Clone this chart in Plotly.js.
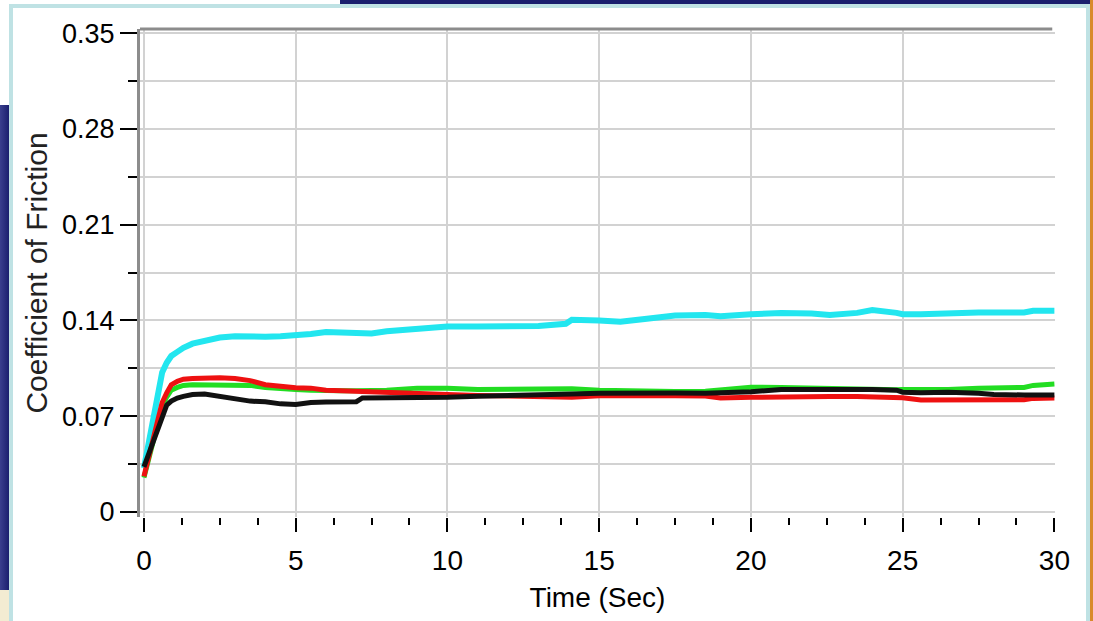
<!DOCTYPE html>
<html>
<head>
<meta charset="utf-8">
<script src="https://cdn.plot.ly/plotly-3.0.1.min.js"></script>
<style>
  html, body { margin:0; padding:0; background:#ffffff; }
  #wrap { position:relative; width:1093px; height:621px; overflow:hidden; background:#ffffff; }
  .deco { position:absolute; }
  #chart { position:absolute; left:0; top:0; width:1093px; height:621px; }
</style>
</head>
<body>
<div id="wrap">
  <div class="deco" style="left:340px;top:0;width:753px;height:5px;background:#1a1f6e;"></div>
  <div class="deco" style="left:0;top:105px;width:9px;height:485px;background:linear-gradient(90deg,#3a3f8e,#1a1f6e);"></div>
  <div class="deco" style="left:0;top:590px;width:9px;height:31px;background:#f3ecd2;"></div>
  <div class="deco" style="left:9px;top:4px;width:4px;height:617px;background:#bfe2e4;"></div>
  <div class="deco" style="left:9px;top:4px;width:1081px;height:4px;background:#bfe2e4;"></div>
  <div class="deco" style="left:1086px;top:4px;width:4px;height:617px;background:#bfe2e4;"></div>
  <div class="deco" style="left:1090px;top:0;width:3px;height:621px;background:#d98a2a;"></div>
  <div id="chart"></div>
</div>
<script>
// Time (s)
var timeSec = [0, 0.15, 0.3, 0.45, 0.6, 0.75, 0.9, 1.1, 1.3, 1.6, 2, 2.5, 3, 3.5, 4, 4.5, 5, 5.5, 6, 6.5, 7, 7.2, 7.5, 8, 9, 10, 11, 12, 13, 13.9, 14.1, 15, 15.7, 16.5, 17.5, 18.5, 19, 20, 21, 22, 22.6, 23.5, 24, 24.8, 25, 25.6, 26.5, 27.5, 28, 29, 29.3, 30];

var cyanCoF = [0.032, 0.050, 0.072, 0.090, 0.102, 0.109, 0.114, 0.117, 0.120, 0.123, 0.1255, 0.1275, 0.1285, 0.128, 0.128, 0.1285, 0.129, 0.130, 0.1315, 0.131, 0.130, 0.130, 0.1305, 0.132, 0.134, 0.1355, 0.1355, 0.1352, 0.136, 0.1375, 0.1405, 0.140, 0.139, 0.141, 0.1435, 0.144, 0.143, 0.1445, 0.1455, 0.145, 0.144, 0.1455, 0.1475, 0.1455, 0.1445, 0.1445, 0.1455, 0.1458, 0.1458, 0.1458, 0.147, 0.147];

var greenCoF = [0.025, 0.038, 0.053, 0.066, 0.077, 0.084, 0.089, 0.091, 0.0925, 0.093, 0.093, 0.093, 0.093, 0.0925, 0.091, 0.090, 0.0895, 0.089, 0.0885, 0.0885, 0.0885, 0.0885, 0.0888, 0.089, 0.0905, 0.0905, 0.0895, 0.0895, 0.090, 0.0902, 0.090, 0.089, 0.0885, 0.0882, 0.088, 0.0882, 0.0895, 0.0912, 0.091, 0.0905, 0.090, 0.0898, 0.089, 0.0893, 0.0895, 0.0895, 0.0895, 0.0905, 0.0908, 0.091, 0.0925, 0.0935];

var redCoF = [0.026, 0.040, 0.055, 0.068, 0.080, 0.087, 0.093, 0.0955, 0.097, 0.0975, 0.098, 0.098, 0.0975, 0.096, 0.093, 0.0915, 0.0908, 0.0905, 0.089, 0.0885, 0.088, 0.0878, 0.0875, 0.087, 0.0862, 0.0858, 0.0852, 0.0848, 0.0838, 0.0833, 0.0838, 0.085, 0.0852, 0.0852, 0.085, 0.0848, 0.0833, 0.0838, 0.0843, 0.0843, 0.0843, 0.0843, 0.0843, 0.0843, 0.0835, 0.0818, 0.082, 0.082, 0.0815, 0.082, 0.083, 0.0833];

var blackCoF = [0.033, 0.042, 0.051, 0.060, 0.071, 0.078, 0.081, 0.0833, 0.0845, 0.0858, 0.0862, 0.0843, 0.0825, 0.081, 0.0805, 0.079, 0.0785, 0.080, 0.0803, 0.0805, 0.0806, 0.0833, 0.0833, 0.0833, 0.0835, 0.0838, 0.0845, 0.0848, 0.0852, 0.086, 0.0862, 0.0868, 0.087, 0.087, 0.087, 0.0868, 0.087, 0.0878, 0.0895, 0.0898, 0.0898, 0.0897, 0.0895, 0.089, 0.0875, 0.0872, 0.0875, 0.0868, 0.0858, 0.0855, 0.0855, 0.0855];

var xTickVals = [0, 5, 10, 15, 20, 25, 30];
var yTickVals = [0, 0.07, 0.14, 0.21, 0.28, 0.35];
var yTickText = ['0', '0.07', '0.14', '0.21', '0.28', '0.35'];

function line(y, color, width) {
  return { x: timeSec, y: y, type: 'scatter', mode: 'lines',
           line: { color: color, width: width, shape: 'linear' }, hoverinfo: 'skip' };
}

var data = [
  line(cyanCoF, '#22e6ef', 6),
  line(greenCoF, '#22dd22', 5),
  line(redCoF, '#ee1111', 5),
  line(blackCoF, '#111111', 5)
];

var fontFam = '"Liberation Sans", Arial, sans-serif';

var layout = {
  width: 1093, height: 621,
  margin: { l: 140, r: 38, t: 29, b: 104 },
  paper_bgcolor: 'rgba(0,0,0,0)',
  plot_bgcolor: '#ffffff',
  showlegend: false,
  font: { family: fontFam, color: '#000000' },
  xaxis: {
    range: [-0.13, 30.02],
    tickmode: 'array', tickvals: xTickVals,
    ticks: 'outside', ticklen: 14, tickwidth: 2, tickcolor: '#000',
    ticklabelstandoff: 4,
    minor: { tickmode: 'linear', tick0: 0, dtick: 1.25, ticks: 'outside', ticklen: 7, tickwidth: 2, tickcolor: '#000', showgrid: false },
    showgrid: true, gridcolor: '#d2d2d2', gridwidth: 2,
    zeroline: false, showline: false,
    tickfont: { size: 28, family: fontFam, color: '#000' },
    title: { text: 'Time (Sec)', font: { size: 28, family: fontFam, color: '#000' }, standoff: 12 },
    fixedrange: true
  },
  yaxis: {
    range: [-0.0037, 0.353],
    tickmode: 'array', tickvals: yTickVals, ticktext: yTickText,
    ticks: 'outside', ticklen: 17, tickwidth: 2, tickcolor: '#000',
    minor: { tickmode: 'linear', tick0: 0, dtick: 0.035, ticks: 'outside', ticklen: 9, tickwidth: 2, tickcolor: '#000', showgrid: true, gridcolor: '#d2d2d2', gridwidth: 2 },
    showgrid: true, gridcolor: '#d2d2d2', gridwidth: 2,
    zeroline: false, showline: true, linecolor: '#8c8c8c', linewidth: 3,
    tickfont: { size: 27, family: fontFam, color: '#000' },
    title: { text: 'Coefficient of Friction', font: { size: 30, family: fontFam, color: '#222' }, standoff: 6 },
    fixedrange: true
  },
  shapes: [
    { type: 'line', xref: 'paper', yref: 'paper', x0: 0, x1: 0.997, y0: 1, y1: 1,
      line: { color: '#8c8c8c', width: 3 } }
  ]
};

Plotly.newPlot('chart', data, layout, { displayModeBar: false, staticPlot: true });
</script>
</body>
</html>
